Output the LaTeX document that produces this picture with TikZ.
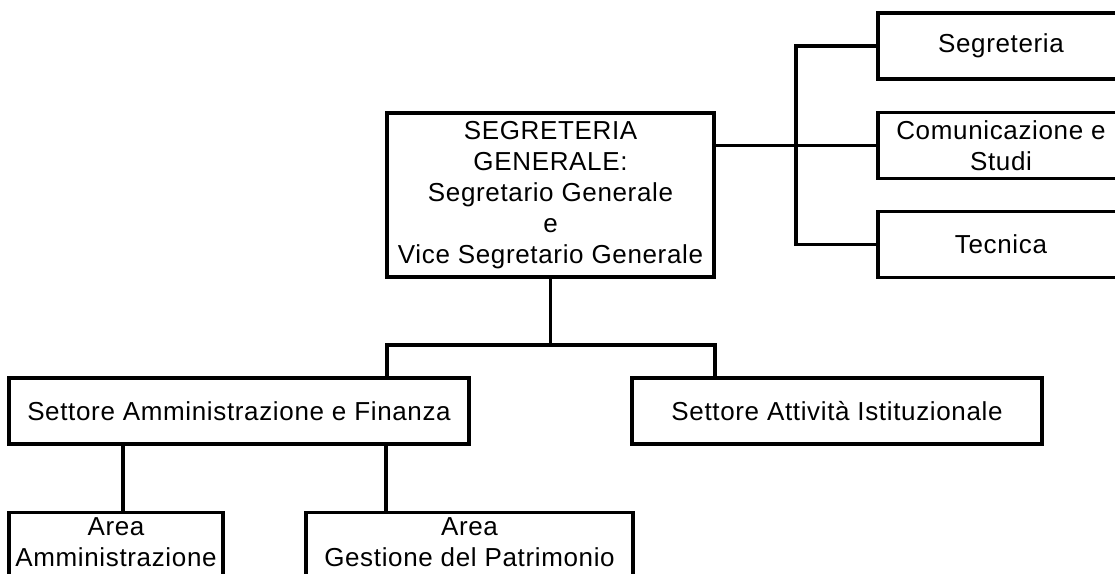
\documentclass[tikz,border=0pt]{standalone}
\usepackage{fontspec}
\setmainfont{Liberation Sans}[LetterSpace=2.5]
\usetikzlibrary{positioning,calc}
\tikzset{every node/.style={font=\fontsize{26}{31}\selectfont},
 unit/.style={draw,line width=3.2pt,inner sep=0pt,align=center,minimum height=66},
 area/.style={unit,anchor=north,inner ysep=5pt,text depth=70pt},
 link/.style={line width=3.2pt}}
\begin{document}
\begin{tikzpicture}[x=1pt,y=-1pt]
\clip (0,0) rectangle (1115,573);
% segreteria generale and its staff offices
\node[unit,minimum width=327,minimum height=164] (sg) at (550.5,195)
 {SEGRETERIA\\GENERALE:\\Segretario Generale\\e\\Vice Segretario Generale};
\foreach \y/\n/\t in {46/seg/Segreteria,145.5/com/{Comunicazione e\\Studi},244.5/tec/Tecnica}
 \node[unit,minimum width=246] (\n) at (1001,\y) {\t};
% settori
\node[unit,minimum width=460] (sam) at (239,411) {Settore Amministrazione e Finanza};
\node[unit,minimum width=410] (sai) at (837,411) {Settore Attività Istituzionale};
% aree
\node[area,minimum width=214] (aam) at (116,511) {Area\\Amministrazione};
\node[area,minimum width=327] (agp) at (469.5,511) {Area\\Gestione del Patrimonio};
% connectors
\coordinate (bus) at (796,0);
\coordinate (fl) at (387,345);\coordinate (fr) at (715,345);
\coordinate (dl) at (123,0);\coordinate (dr) at (386,0);
\draw[link] (sg.east |- com.west)--(com.west);
\draw[link] (seg.west)--(bus |- seg.west)--(bus |- tec.west)--(tec.west);
\draw[link] (sg.south)--(sg.south |- fl);
\draw[link] (fl |- sam.north)--(fl)--(fr)--(fr |- sai.north);
\draw[link] (dl |- sam.south)--(dl |- aam.north);
\draw[link] (dr |- sam.south)--(dr |- agp.north);
\end{tikzpicture}
\end{document}
